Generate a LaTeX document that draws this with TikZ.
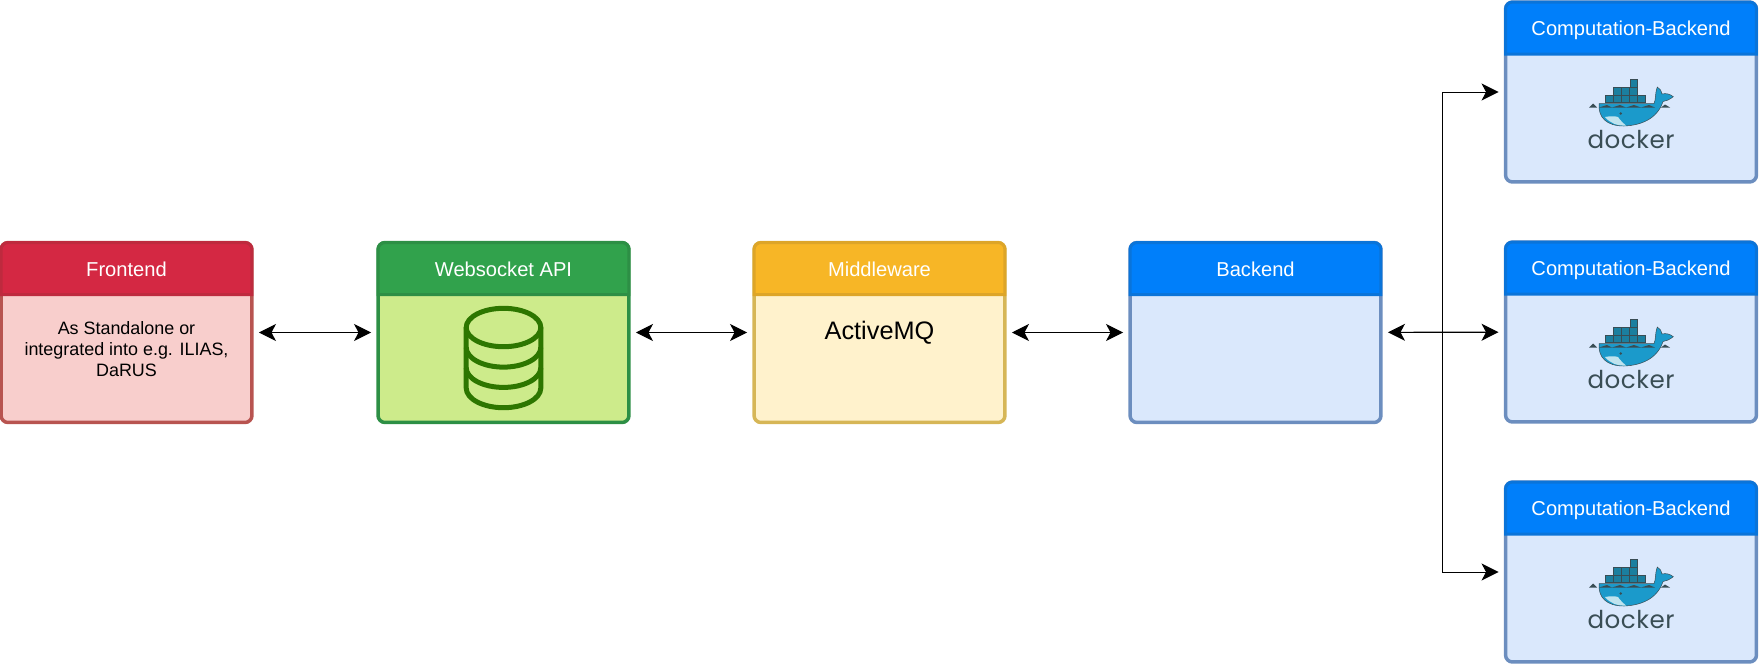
\documentclass[tikz,border=0pt]{standalone}
\usepackage{fontspec}
\setmainfont{Liberation Sans}
\newfontfamily\dockerfont[LetterSpace=2]{Poppins}
\usepackage{tikz}
\usetikzlibrary{arrows.meta,calc}

\definecolor{redhead}{HTML}{D42843}
\definecolor{redhline}{HTML}{BE2A3E}
\definecolor{redbody}{HTML}{F8CECC}
\definecolor{redline}{HTML}{B85450}
\definecolor{greenhead}{HTML}{31A24C}
\definecolor{greenhline}{HTML}{2D8F45}
\definecolor{greenbody}{HTML}{CDEB8B}
\definecolor{dbline}{HTML}{2D7600}
\definecolor{yellowhead}{HTML}{F7B626}
\definecolor{yellowhline}{HTML}{DDA528}
\definecolor{yellowbody}{HTML}{FFF2CC}
\definecolor{yellowline}{HTML}{D6B656}
\definecolor{bluehead}{HTML}{007FFA}
\definecolor{bluehline}{HTML}{0A74D9}
\definecolor{bluebody}{HTML}{DAE8FC}
\definecolor{blueline}{HTML}{6C8EBF}
\definecolor{whaleink}{HTML}{394D54}
\definecolor{whalebody}{HTML}{1B9ACB}
\definecolor{whalebelly}{HTML}{BFE3EE}
\definecolor{crate}{HTML}{1B7F9F}

\tikzset{
  panel/.style={rectangle,rounded corners=0.14cm,line width=0.07cm,minimum width=5.02cm,minimum height=3.6cm,inner sep=0pt,outer sep=0pt},
  headtext/.style={text=white,text height=1.5ex,text depth=.25ex,font=\fontsize{11.45}{13}\selectfont},
  dtip/.tip={Stealth[length=0.34cm,width=0.34cm,inset=0.09cm]},
  link/.style={dtip-dtip,line width=0.022cm,shorten <=0.14cm,shorten >=0.14cm},
  branchlink/.style={-dtip,line width=0.02cm,shorten >=0.14cm},
  dockerlogo/.pic={
    % crates
    \draw[fill=crate,draw=whaleink,line width=0.01cm]
      (-1,-13) rectangle ++(7.7,8.3)
      (-17.7,-4.7) rectangle ++(8.1,7.7) (-9.6,-4.7) rectangle ++(8.1,7.7) (-1.5,-4.7) rectangle ++(8.2,7.7)
      (-25.3,3) rectangle ++(7.9,7.7) (-17.4,3) rectangle ++(7.9,7.7) (-9.5,3) rectangle ++(7.9,7.7) (-1.6,3) rectangle ++(7.9,7.7) (6.3,3) rectangle ++(7.9,7.7);
    % whale
    \draw[fill=whalebody,draw=whaleink,line width=0.01cm] (-32,11.5) -- (23,11.5)
      .. controls (25,8) and (24,0) .. (26.3,-5)
      .. controls (29,-3) and (31,-1) .. (31,2)
      .. controls (35,1) and (39,2) .. (42.3,4.7)
      .. controls (38,8) and (35,9) .. (32,9.5)
      .. controls (26,28) and (8,33.5) .. (-7,34)
      .. controls (-24,34) and (-33,26) .. (-32,11.5) -- cycle;
    \fill[whalebelly] (-26,25) .. controls (-21,24) and (-16,24) .. (-13,25) .. controls (-11,28) and (-8,31) .. (-5,33.5) .. controls (-14,34) and (-21,31) .. (-26,25) -- cycle;
    % waves
    \fill[whaleink] (-42,15.5) -- (-38,11.5) -- (-34,15.5) -- cycle (-32,15.5) -- (-24,13) -- (-19,15.5) -- (-11,13) -- (-5,15.5) -- (3,13) -- (10,15.5) -- (18,13) -- (24,15.5) -- cycle (30,15.5) -- (34,12.5) -- (39,15.5) -- cycle;
    \fill[whaleink] (-10.3,21.5) circle (1.3);
    \node[text=whaleink,anchor=base,inner sep=0pt,font=\dockerfont\fontsize{14}{16}\selectfont] (-word) at (0,56.3) {docker};
  }
}

\begin{document}
\begin{tikzpicture}[x=0.02cm,y=-0.02cm]
  \useasboundingbox (0,0) rectangle (1759,664);

  \draw (126.5,332.5) node[panel,fill=redbody,draw=redline] (frontend) {};
  \draw (503.5,332.5) node[panel,fill=greenbody,draw=greenhline] (websocket) {};
  \draw (879.5,332.5) node[panel,fill=yellowbody,draw=yellowline] (middleware) {};
  \draw (1255.5,332.5) node[panel,fill=bluebody,draw=blueline] (backend) {};
  \draw (1631,92) node[panel,fill=bluebody,draw=blueline] (compute1) {};
  \draw (1631,332) node[panel,fill=bluebody,draw=blueline] (compute2) {};
  \draw (1631,572) node[panel,fill=bluebody,draw=blueline] (compute3) {};

  % title bars
  \draw[line width=0.06cm,fill=redhead,draw=redhline] ($(frontend.north west)+(0,52)$) [rounded corners=0.14cm] -- (frontend.north west) -- (frontend.north east) [sharp corners] -- ($(frontend.north east)+(0,52)$) -- cycle;
  \draw[line width=0.06cm,fill=greenhead,draw=greenhline] ($(websocket.north west)+(0,52)$) [rounded corners=0.14cm] -- (websocket.north west) -- (websocket.north east) [sharp corners] -- ($(websocket.north east)+(0,52)$) -- cycle;
  \draw[line width=0.06cm,fill=yellowhead,draw=yellowhline] ($(middleware.north west)+(0,52)$) [rounded corners=0.14cm] -- (middleware.north west) -- (middleware.north east) [sharp corners] -- ($(middleware.north east)+(0,52)$) -- cycle;
  \draw[line width=0.06cm,fill=bluehead,draw=bluehline] ($(backend.north west)+(0,52)$) [rounded corners=0.14cm] -- (backend.north west) -- (backend.north east) [sharp corners] -- ($(backend.north east)+(0,52)$) -- cycle;
  \draw[line width=0.06cm,fill=bluehead,draw=bluehline] ($(compute1.north west)+(0,52)$) [rounded corners=0.14cm] -- (compute1.north west) -- (compute1.north east) [sharp corners] -- ($(compute1.north east)+(0,52)$) -- cycle;
  \draw[line width=0.06cm,fill=bluehead,draw=bluehline] ($(compute2.north west)+(0,52)$) [rounded corners=0.14cm] -- (compute2.north west) -- (compute2.north east) [sharp corners] -- ($(compute2.north east)+(0,52)$) -- cycle;
  \draw[line width=0.06cm,fill=bluehead,draw=bluehline] ($(compute3.north west)+(0,52)$) [rounded corners=0.14cm] -- (compute3.north west) -- (compute3.north east) [sharp corners] -- ($(compute3.north east)+(0,52)$) -- cycle;

  \draw ($(frontend.north)+(0,28)$) node[headtext] (frontendtitle) {Frontend};
  \draw ($(websocket.north)+(0,28)$) node[headtext] (websockettitle) {Websocket API};
  \draw ($(middleware.north)+(0,28)$) node[headtext] (middlewaretitle) {Middleware};
  \draw ($(backend.north)+(0,28)$) node[headtext] (backendtitle) {Backend};
  \draw ($(compute1.north)+(0,28)$) node[headtext] (compute1title) {Computation-Backend};
  \draw ($(compute2.north)+(0,28)$) node[headtext] (compute2title) {Computation-Backend};
  \draw ($(compute3.north)+(0,28)$) node[headtext] (compute3title) {Computation-Backend};

  \draw (126.5,349) node[align=center,font=\fontsize{10.2}{12.1}\selectfont] (frontendtext) {As Standalone or\\integrated into e.g. ILIAS,\\DaRUS};
  \draw (879.5,333) node[font=\fontsize{14.4}{17}\selectfont] (broker) {ActiveMQ};

  % database
  \draw[dbline,line width=0.1cm] (503.5,327.5) ellipse (37.3 and 19.2);
  \draw[dbline,line width=0.1cm] (466.2,327.5) -- (466.2,388) arc (180:0:37.3 and 19.7) -- (540.8,327.5);
  \draw[dbline,line width=0.1cm] (466.2,347.4) arc (180:0:37.3 and 19.7);
  \draw[dbline,line width=0.1cm] (466.2,367.7) arc (180:0:37.3 and 19.7);

  \pic (dock1) at (compute1) {dockerlogo};
  \pic (dock2) at (compute2) {dockerlogo};
  \pic (dock3) at (compute3) {dockerlogo};

  \coordinate (branch) at (1442,332);

  \path[link] (frontend) edge (websocket);
  \path[link] (websocket) edge (middleware);
  \path[link] (middleware) edge (backend);
  \path[link] (backend) edge (compute2);
  \draw[branchlink] (branch) |- (compute1);
  \draw[branchlink] (branch) |- (compute3);
\end{tikzpicture}
\end{document}
